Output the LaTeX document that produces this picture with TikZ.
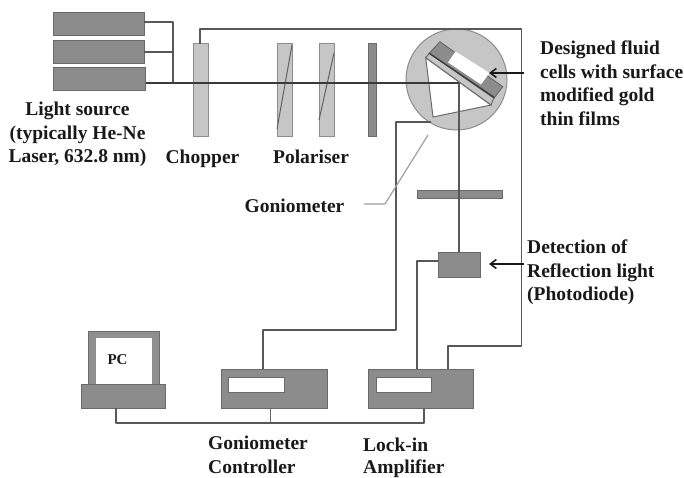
\documentclass[tikz,border=0pt]{standalone}
\usepackage{fontspec}
\setmainfont{Liberation Serif}
\usetikzlibrary{arrows.meta}
\definecolor{boxdark}{HTML}{8C8C8C}
\definecolor{boxlight}{HTML}{C6C6C6}
\definecolor{boxmid}{HTML}{8F8F8F}
\definecolor{edge}{HTML}{6A6A6A}
\definecolor{wire}{HTML}{3A3A3A}
\tikzset{
  block/.style={rectangle, inner sep=0pt, fill=boxdark, draw=edge, line width=1pt},
  plate/.style={rectangle, inner sep=0pt, fill=boxlight, draw=boxdark, line width=1pt},
  window/.style={rectangle, inner sep=0pt, fill=white, draw=edge, line width=0.8pt},
  wireline/.style={draw=wire!85, line width=1.7pt, line join=round},
  beam/.style={draw=wire, line width=1.8pt},
  label/.style={font=\fontsize{19.5}{23.5}\selectfont\bfseries, inner sep=0pt, align=left, text=black!90},
  pointer/.style={-{Straight Barb[length=6pt,width=9pt]}, line width=1.6pt, draw=black!90}
}
\begin{document}
\begin{tikzpicture}[x=1pt,y=-1pt]
\useasboundingbox (0,0) rectangle (684,478);
% light source
\node[block, minimum width=91pt, minimum height=23pt] (laser1) at (98.5,24.5) {};
\node[block, minimum width=91pt, minimum height=23pt] (laser2) at (98.5,52.5) {};
\node[block, minimum width=92pt, minimum height=23pt] (laser3) at (99,79.5) {};
% optics on the bench
\node[plate, minimum width=15pt, minimum height=93pt] (chopper) at (200.5,90.5) {};
\node[plate, minimum width=15pt, minimum height=93pt] (polar1) at (284.5,90.5) {};
\node[plate, minimum width=15pt, minimum height=93pt] (polar2) at (326.5,90.5) {};
\node[block, minimum width=8pt, minimum height=93pt] (filter1) at (372,90.5) {};
\draw[draw=wire!80, line width=1pt] (292,45) -- (277,129);
\draw[draw=wire!80, line width=1pt] (334,53) -- (319,120);
% goniometer with the fluid cell
\node[circle, inner sep=0pt, minimum size=101pt, fill=boxlight, draw=boxdark, line width=1pt] (gonio) at (456.5,79.5) {};
\fill[white, draw=edge, line width=1pt] (425.7,57.7) -- (491,105) -- (433,117) -- cycle;
\fill[boxlight, draw=edge, line width=1pt] (425.7,57.7) -- (491,105) -- (494,97.3) -- (429.3,53.3) -- cycle;
\fill[boxdark, draw=edge, line width=1pt] (429.3,53.3) -- (440,41.7) -- (502.7,86.7) -- (494,98.3) -- cycle;
\fill[white] (448,62.5) -- (455.5,51.5) -- (489.5,73) -- (481,84.5) -- cycle;
\draw[draw=wire, line width=1.3pt] (429.3,53.3) -- (494,97.3);
% detection arm
\node[block, minimum width=85pt, minimum height=8pt] (filter2) at (459.5,195) {};
\node[block, minimum width=42pt, minimum height=25pt] (detector) at (459,264.5) {};
% instruments
\node[block, minimum width=106pt, minimum height=39pt] (control) at (274,388.5) {};
\node[block, minimum width=105pt, minimum height=39pt] (lockin) at (420.5,388.5) {};
\node[window, minimum width=56pt, minimum height=15pt] (window1) at (256,384.5) {};
\node[window, minimum width=55pt, minimum height=15pt] (window2) at (403.5,384.5) {};
\node[block, fill=boxmid, minimum width=71pt, minimum height=53pt] (screen) at (123.5,357.5) {};
\node[window, draw=none, minimum width=56pt, minimum height=46pt] (display) at (124,361) {};
\node[block, minimum width=84pt, minimum height=24pt] (pc) at (123,396) {};
% free ends of the connectors
\coordinate (junction) at (173,83);
\coordinate (turn) at (459,83);
\coordinate (goniocable) at (431,122);
\coordinate (bus1) at (116,408);
\coordinate (bus2) at (424,408);
\coordinate (bus3) at (270,408);
\coordinate (busmid) at (270,423);
\coordinate (leader) at (428,135);
\coordinate (tail1) at (524,73);
\coordinate (tail2) at (524,264);
% connectors
\draw[wireline] (144,22) -| (junction);
\draw[wireline] (144,52) -- (173,52);
\draw[beam] (laser3.east |- junction) -- (turn);
\draw[beam, line width=1.5pt, draw=wire!85] (turn) -- (detector.north -| turn);
\draw[wireline, line width=1.3pt] (200,44) |- (521.5,29) -- (521.5,346) -| (448,369);
\draw[wireline] (goniocable) -| (396,330) -| (263,369);
\draw[wireline] (detector.west |- 0,261) -| (417,369);
\draw[wireline] (bus1) |- (busmid) -| (bus2);
\draw[draw=edge, line width=0.8pt] (bus3) -- (busmid);
\draw[draw=boxlight!80!black, line width=1.2pt] (364,204) -- (385,204) -- (leader);
\draw[pointer] (tail1) -- (489,73);
\draw[pointer] (tail2) -- (489,264);
% labels
\node[label, anchor=north west] (cells) at (540,41) {Designed fluid\\cells with surface\\modified gold\\thin films};
\node[label, anchor=north west] (photo) at (527,240) {Detection of\\Reflection light\\(Photodiode)};
\node[label, anchor=north, align=center] (source) at (77.5,102) {Light source\\(typically He-Ne\\Laser, 632.8 nm)};
\node[label, anchor=base] (choppertext) at (202.5,164) {Chopper};
\node[label, anchor=base] (polartext) at (311,164) {Polariser};
\node[label, anchor=base] (goniotext) at (294.5,212) {Goniometer};
\node[label, anchor=north west] (controltext) at (208,436) {Goniometer\\Controller};
\node[label, font=\fontsize{19.5}{22}\selectfont\bfseries, anchor=north west] (locktext) at (363,437.5) {Lock-in\\Amplifier};
\node[label, font=\fontsize{15}{15}\selectfont\bfseries, anchor=base] (pctext) at (117.5,364) {PC};
\end{tikzpicture}
\end{document}
